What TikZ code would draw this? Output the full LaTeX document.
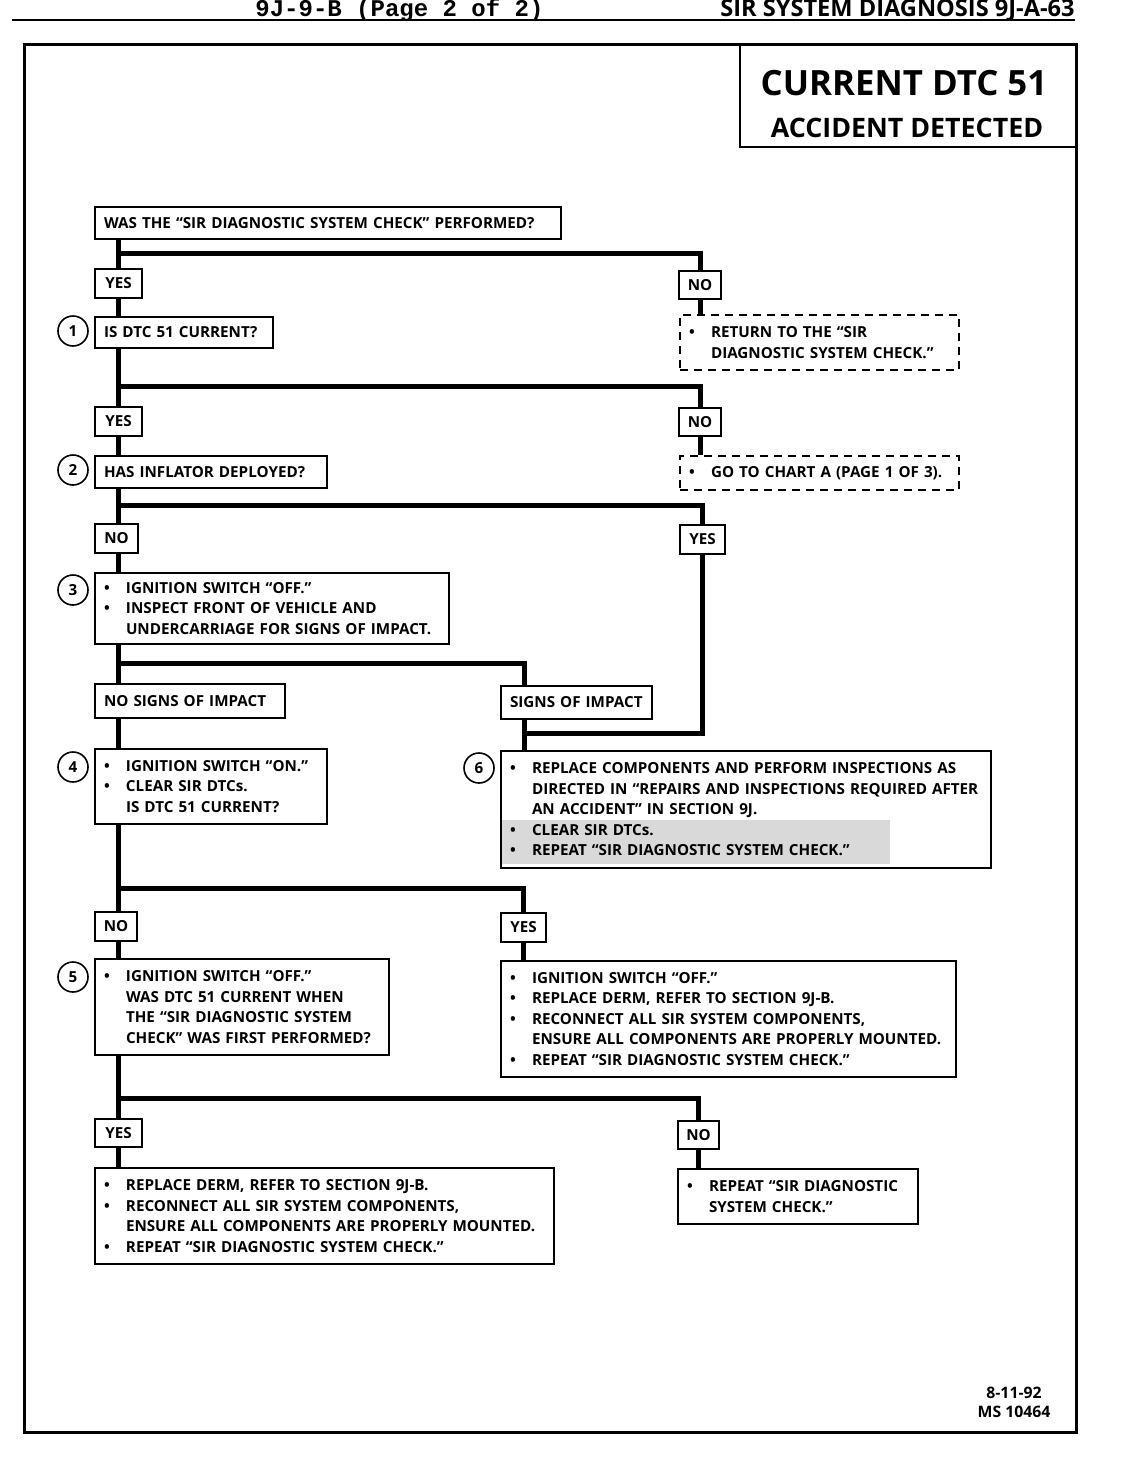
\documentclass[tikz,border=0pt]{standalone}
\usepackage{fontspec}
\setmainfont{Open Sans}
\newfontfamily\monofont{Liberation Mono}
\usetikzlibrary{positioning, backgrounds, calc}

\newcommand\bodyfont{\fontsize{7.6}{10.25}\selectfont\bfseries}
\newcommand\itm{\makebox[11pt][l]{\textbullet}}
\newcommand\ind{\hspace*{11pt}}

\begin{document}
\begin{tikzpicture}[x=0.5pt, y=-0.5pt, font=\bodyfont]
    \tikzstyle{box} = [draw, line width=1pt, anchor=north west, inner xsep=4.5pt, inner ysep=0pt, align=left]
    \tikzstyle{dbox} = [box, dash pattern=on 4pt off 3pt]
    \tikzstyle{lbl} = [draw, line width=1pt, anchor=north west, inner sep=0pt]
    \tikzstyle{num} = [draw, circle, line width=0.8pt, minimum size=15pt, inner sep=0pt]
    \tikzstyle{flow} = [line width=2.5pt]
    \clip (0,0) rectangle (1120,1472);

    % page header and frame
    \draw[line width=1pt] (12,20) -- (1075,20);
    \node[anchor=base east, inner sep=0pt, font=\fontsize{11.8}{12}\selectfont\bfseries] (hdr) at (1075,17) {SIR SYSTEM DIAGNOSIS 9J-A-63};
    \node[anchor=base west, inner sep=0pt, font=\fontsize{12}{12}\monofont\bfseries] (hdl) at (255,17) {9J-9-B (Page 2 of 2)};
    \draw[line width=1.5pt] (24,44) rectangle (1076,1432);
    \draw[line width=1pt] (740,44) -- (740,147) -- (1076,147);
    \node[font=\fontsize{17.4}{20}\selectfont\bfseries] (ttl) at (904,83) {CURRENT DTC 51};
    \node[font=\fontsize{13.4}{16}\selectfont\bfseries] (sub) at (907,128) {ACCIDENT DETECTED};

    % questions and steps
    \node[box, text width=224pt, minimum height=16pt] (q0) at (94,206) {WAS THE “SIR DIAGNOSTIC SYSTEM CHECK” PERFORMED?};
    \node[lbl, minimum width=23.5pt, minimum height=14.5pt] (yes1) at (94,268) {YES};
    \node[lbl, minimum width=21pt, minimum height=14pt] (no1) at (678,270) {NO};
    \node[num] (n1) at (73,331) {1};
    \node[box, text width=80pt, minimum height=15.5pt] (q1) at (94,316) {IS DTC 51 CURRENT?};
    \node[dbox, text width=130.5pt, minimum height=27.5pt] (r1) at (679,314) {\itm RETURN TO THE “SIR\\ \ind DIAGNOSTIC SYSTEM CHECK.”};

    \node[lbl, minimum width=23.5pt, minimum height=14.5pt] (yes2) at (94,406) {YES};
    \node[lbl, minimum width=21pt, minimum height=14pt] (no2) at (678,407) {NO};
    \node[num] (n2) at (73,470) {2};
    \node[box, text width=107pt, minimum height=16pt] (q2) at (94,455) {HAS INFLATOR DEPLOYED?};
    \node[dbox, text width=130.5pt, minimum height=17pt] (r2) at (679,455) {\itm GO TO CHART A (PAGE 1 OF 3).};

    \node[lbl, minimum width=21.5pt, minimum height=14.5pt] (no3) at (94,523) {NO};
    \node[lbl, minimum width=22.5pt, minimum height=14.5pt] (yes3) at (679,524) {YES};
    \node[num] (n3) at (73,590) {3};
    \node[box, text width=168pt, minimum height=35.5pt] (q3) at (94,572) {\itm IGNITION SWITCH “OFF.”\\ \itm INSPECT FRONT OF VEHICLE AND\\ \ind UNDERCARRIAGE FOR SIGNS OF IMPACT.};

    \node[box, text width=86pt, minimum height=17pt] (nosig) at (94,683) {NO SIGNS OF IMPACT};
    \node[box, text width=66.5pt, minimum height=16.5pt] (sig) at (500,685) {SIGNS OF IMPACT};

    \node[num] (n4) at (73,767) {4};
    \node[box, text width=107pt, minimum height=37.5pt] (q4) at (94,748) {\itm IGNITION SWITCH “ON.”\\ \itm CLEAR SIR DTCs.\\ \ind IS DTC 51 CURRENT?};
    \node[num] (n6) at (479,768) {6};
    \node[box, text width=236pt, minimum height=58.5pt] (r6) at (500,750) {\itm REPLACE COMPONENTS AND PERFORM INSPECTIONS AS\\ \ind DIRECTED IN “REPAIRS AND INSPECTIONS REQUIRED AFTER\\ \ind AN ACCIDENT” IN SECTION 9J.\\ \itm CLEAR SIR DTCs.\\ \itm REPEAT “SIR DIAGNOSTIC SYSTEM CHECK.”};
    \begin{scope}[on background layer]
        \fill[gray!30] ($(r6.south west)+(0,-5)$) rectangle ($(r6.south west)+(390,-49)$);
    \end{scope}

    \node[lbl, minimum width=21pt, minimum height=14.5pt] (no4) at (94,911) {NO};
    \node[lbl, minimum width=22.5pt, minimum height=14.5pt] (yes4) at (500,912) {YES};
    \node[num] (n5) at (73,977) {5};
    \node[box, text width=138pt, minimum height=48pt] (q5) at (94,958) {\itm IGNITION SWITCH “OFF.”\\ \ind WAS DTC 51 CURRENT WHEN\\ \ind THE “SIR DIAGNOSTIC SYSTEM\\ \ind CHECK” WAS FIRST PERFORMED?};
    \node[box, text width=218.5pt, minimum height=58pt] (r5y) at (500,960) {\itm IGNITION SWITCH “OFF.”\\ \itm REPLACE DERM, REFER TO SECTION 9J-B.\\ \itm RECONNECT ALL SIR SYSTEM COMPONENTS,\\ \ind ENSURE ALL COMPONENTS ARE PROPERLY MOUNTED.\\ \itm REPEAT “SIR DIAGNOSTIC SYSTEM CHECK.”};

    \node[lbl, minimum width=23.5pt, minimum height=14pt] (yes5) at (94,1118) {YES};
    \node[lbl, minimum width=20.5pt, minimum height=14pt] (no5) at (677,1120) {NO};
    \node[box, text width=220.5pt, minimum height=48pt] (r5a) at (94,1167) {\itm REPLACE DERM, REFER TO SECTION 9J-B.\\ \itm RECONNECT ALL SIR SYSTEM COMPONENTS,\\ \ind ENSURE ALL COMPONENTS ARE PROPERLY MOUNTED.\\ \itm REPEAT “SIR DIAGNOSTIC SYSTEM CHECK.”};
    \node[box, text width=111pt, minimum height=27.5pt] (r5b) at (677,1168) {\itm REPEAT “SIR DIAGNOSTIC\\ \ind SYSTEM CHECK.”};

    \node[align=center, font=\fontsize{7.9}{9.5}\selectfont\bfseries] (ms) at (1014,1402) {8-11-92\\MS 10464};

    % connectors
    \coordinate (sp) at (118,0);
    \coordinate (j1) at (118,253);
    \coordinate (j2) at (118,386);
    \coordinate (j3) at (118,505);
    \coordinate (j4) at (118,663);
    \coordinate (j5) at (118,888);
    \coordinate (j6) at (118,1098);
    \coordinate (j7) at (524,733);
    \foreach \a/\b in {q0/yes1, yes1/q1, q1/yes2, yes2/q2, q2/no3, no3/q3, q3/nosig, nosig/q4, q4/no4, no4/q5, q5/yes5, yes5/r5a}
        \draw[flow] (\a.south -| sp) -- (\b.north -| sp);
    \draw[flow] (j1) -| (no1.north);
    \draw[flow] (no1.south) -- (no1.south |- r1.north);
    \draw[flow] (j2) -| (no2.north);
    \draw[flow] (no2.south) -- (no2.south |- r2.north);
    \draw[flow] (j3) -| (yes3.north);
    \draw[flow] (yes3.south) |- (j7);
    \draw[flow] (j4) -| (j7 |- sig.north);
    \draw[flow] (j7 |- sig.south) -- (j7 |- r6.north);
    \draw[flow] (j5) -| (yes4.north);
    \draw[flow] (yes4.south) -- (yes4.south |- r5y.north);
    \draw[flow] (j6) -| (no5.north);
    \draw[flow] (no5.south) -- (no5.south |- r5b.north);
\end{tikzpicture}
\end{document}
